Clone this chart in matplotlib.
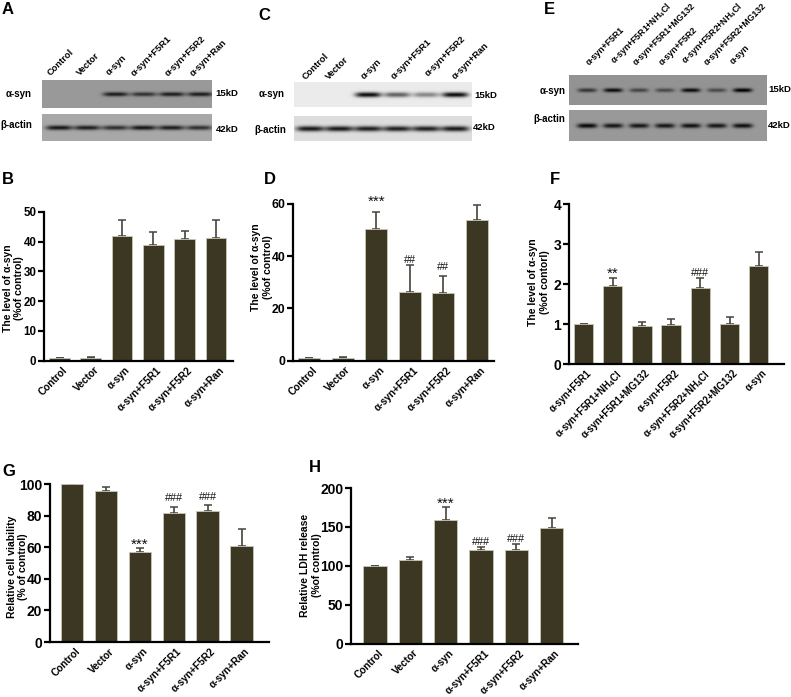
import numpy as np
import matplotlib
matplotlib.use("Agg")
import matplotlib.pyplot as plt
from matplotlib.transforms import ScaledTranslation

plt.rcParams["font.family"] = ["Liberation Sans", "DejaVu Sans"]
plt.rcParams["font.weight"] = "bold"
plt.rcParams["mathtext.fontset"] = "custom"
plt.rcParams["mathtext.rm"] = "Liberation Sans:bold"
plt.rcParams["mathtext.default"] = "regular"

W, H = 791, 697
BAR_COLOR = "#3b3723"
BAR_EDGE = "#c9c8b6"
ERR_COLOR = "#45433a"

groups = ["Control", "Vector", "α-syn", "α-syn+F5R1", "α-syn+F5R2", "α-syn+Ran"]
groups_f = [
    "α-syn+F5R1",
    "α-syn+F5R1+NH$_4$Cl",
    "α-syn+F5R1+MG132",
    "α-syn+F5R2",
    "α-syn+F5R2+NH$_4$Cl",
    "α-syn+F5R2+MG132",
    "α-syn",
]

# bar heights and upper error bars
b_values = [1.0, 0.8, 42.0, 39.0, 41.0, 41.2]
b_errors = [0.0, 0.5, 5.3, 4.2, 2.7, 6.2]
d_values = [1.0, 1.0, 50.5, 26.3, 25.8, 53.7]
d_errors = [0.0, 0.3, 6.5, 10.4, 6.8, 5.8]
f_values = [1.0, 1.96, 0.95, 0.98, 1.89, 1.01, 2.46]
f_errors = [0.0, 0.19, 0.10, 0.15, 0.25, 0.16, 0.34]
g_values = [100.0, 95.3, 57.0, 81.8, 83.0, 60.5]
g_errors = [0.0, 2.5, 2.5, 3.7, 4.0, 11.0]
h_values = [100.0, 108.0, 158.5, 120.5, 121.0, 148.0]
h_errors = [0.0, 3.5, 16.5, 4.0, 7.5, 13.0]

d_marks = ["", "", "***", "##", "##", ""]
f_marks = ["", "**", "", "", "###", "", ""]
g_marks = ["", "", "***", "###", "###", ""]
h_marks = ["", "", "***", "###", "###", ""]

# band darkness per lane in the blots
a_syn_a = [0.0, 0.0, 0.5, 0.42, 0.5, 0.5]
actin_a = [0.58, 0.55, 0.48, 0.58, 0.55, 0.48]
a_syn_c = [0.0, 0.0, 0.88, 0.55, 0.4, 0.88]
actin_c = [0.78, 0.78, 0.75, 0.75, 0.75, 0.78]
a_syn_e = [0.38, 0.55, 0.32, 0.3, 0.55, 0.3, 0.6]
actin_e = [0.58, 0.52, 0.52, 0.52, 0.54, 0.52, 0.55]


def px_axes(fig, left, top, right, bottom):
    return fig.add_axes([left / W, 1 - bottom / H, (right - left) / W, (bottom - top) / H])


def px_text(fig, x, y, s, **kwargs):
    return fig.text(x / W, 1 - y / H, s, **kwargs)


def draw_strip(fig, box, first_lane, spacing, levels, background, band_h, band_w):
    # strip is drawn in pixels, one soft band per lane
    left, top, right, bottom = box
    ax = px_axes(fig, left, top, right, bottom)
    xs, ys = np.meshgrid(np.arange(left, right, 0.5), np.arange(top, bottom, 0.5))
    img = np.full(xs.shape, background, dtype=float)
    mid = (top + bottom) / 2
    for i, level in enumerate(levels):
        centre = first_lane + i * spacing
        img -= level * np.exp(-(((xs - centre) / band_w) ** 4)) * np.exp(-(((ys - mid) / band_h) ** 2))
    ax.imshow(img, cmap="gray", vmin=0, vmax=1, aspect="auto", interpolation="bilinear")
    ax.axis("off")


def draw_bars(fig, box, first_bar, spacing, values, errors, labels, top_value, ticks,
              tick_size, label_size, marks=None, mark_gaps=None):
    left, top, right, bottom = box
    ax = px_axes(fig, left, top, right, bottom)
    xpos = np.arange(len(values))
    ax.set_xlim(-(first_bar - left) / spacing, (right - first_bar) / spacing)
    ax.set_ylim(0, top_value)
    ax.errorbar(xpos, values, yerr=[np.zeros(len(errors)), errors], fmt="none",
                ecolor=ERR_COLOR, elinewidth=1.2, capsize=2.6, capthick=1.1, zorder=1)
    ax.bar(xpos, values, width=0.66, color=BAR_COLOR, edgecolor=BAR_EDGE, linewidth=0.6, zorder=2, clip_on=False)
    for name in ["top", "right"]:
        ax.spines[name].set_visible(False)
    for name in ["left", "bottom"]:
        ax.spines[name].set_linewidth(1.6)
        ax.spines[name].set_zorder(5)
    ax.set_yticks(ticks)
    ax.tick_params(axis="y", length=4, width=1.6, labelsize=tick_size, pad=1.5)
    ax.set_xticks(xpos)
    ax.set_xticklabels(labels, rotation=45, ha="right", rotation_mode="anchor", fontsize=label_size)
    ax.tick_params(axis="x", length=0, pad=3)
    shift = ScaledTranslation(3 / 100, 0, fig.dpi_scale_trans)
    for label in ax.get_xticklabels():
        label.set_transform(label.get_transform() + shift)
    if marks:
        for i, mark in enumerate(marks):
            if mark:
                size = 11 if mark[0] == "*" else 7.8
                ax.annotate(mark, (xpos[i], values[i] + errors[i]), xytext=(0, mark_gaps[i]), textcoords="offset points",
                            ha="center", va="baseline", fontsize=size, fontweight="normal", color="#111111",
                            annotation_clip=False)
    return ax


fig = plt.figure(figsize=(W / 100, H / 100), dpi=100)

# blots, top row
draw_strip(fig, (42, 80, 211, 108), 59, 28, a_syn_a, 0.60, 2.1, 12.5)
draw_strip(fig, (42, 114, 212, 141), 59, 28, actin_a, 0.66, 2.3, 13)
draw_strip(fig, (294, 82, 472, 107), 310, 29, a_syn_c, 0.92, 2.5, 13)
draw_strip(fig, (294, 116, 472, 141), 310, 29, actin_c, 0.87, 2.7, 14)
draw_strip(fig, (569, 75, 767, 105), 587, 25.9, a_syn_e, 0.58, 2.0, 9.5)
draw_strip(fig, (569, 110, 767, 141), 587, 25.9, actin_e, 0.60, 2.3, 10)

blot_label_size = 7
for x, y, s in [(19, 94, "α-syn"), (16, 125, "β-actin"), (272, 94, "α-syn"), (270, 130, "β-actin"),
                (553, 91, "α-syn"), (549, 119, "β-actin")]:
    px_text(fig, x, y, s, fontsize=blot_label_size, ha="center", va="center")
for x, y, s in [(215, 94, "15kD"), (216, 129, "42kD"), (474, 96, "15kD"), (473, 128, "42kD"),
                (768, 89, "15kD"), (768, 125, "42kD")]:
    px_text(fig, x, y, s, fontsize=6.8, ha="left", va="center")

for x, y, s in zip([52, 81, 111, 136, 170, 195], [77, 77, 77, 78, 78, 78], groups):
    px_text(fig, x, y, s, fontsize=6.7, rotation=45, ha="left", va="bottom", rotation_mode="anchor")
for x, y, s in zip([307, 330, 366, 396, 430, 457], [81, 81, 81, 81, 78, 81], groups):
    px_text(fig, x, y, s, fontsize=6.7, rotation=45, ha="left", va="bottom", rotation_mode="anchor")
for x, y, s in zip([591, 617, 638, 664, 688, 709, 735], [67, 67, 67, 67, 67, 67, 66], groups_f):
    px_text(fig, x, y, s, fontsize=6.3, rotation=45, ha="left", va="bottom", rotation_mode="anchor")

# bar panels
draw_bars(fig, (44, 212, 233, 360.7), 59.5, 31.3, b_values, b_errors, groups, 50, [0, 10, 20, 30, 40, 50], 8.3, 7.3)
draw_bars(fig, (293, 204, 494, 360.7), 309, 33.6, d_values, d_errors, groups, 60, [0, 20, 40, 60], 8.8, 7.3,
          d_marks, [0, 0, 4, 1.5, 4.3, 0])
draw_bars(fig, (569, 204, 784, 364), 583.5, 29.2, f_values, f_errors, groups_f, 4, [0, 1, 2, 3, 4], 10, 6.9,
          f_marks, [0, 0, 0, 0, 1.5, 0, 0])
draw_bars(fig, (50, 484, 269, 642), 72, 33.9, g_values, g_errors, groups, 100, [0, 20, 40, 60, 80, 100], 10, 7.3,
          g_marks, [0, 0, -0.5, 4.3, 3.6, 0])
draw_bars(fig, (351, 488, 578, 643.7), 375, 35.3, h_values, h_errors, groups, 200, [0, 50, 100, 150, 200], 10, 7.3,
          h_marks, [0, 0, -0.5, 1.5, 1.5, 0])

for x, y, s in [(13.5, 288, "The level of α-syn\n(%of control)"), (262, 267, "The level of α-syn\n(%of control)"),
                (539, 282, "The level of α-syn\n(%of contorl)"), (17.5, 567, "Relative cell viability\n(% of control)"),
                (311, 565, "Relative LDH release\n(%of control)")]:
    px_text(fig, x, y, s, fontsize=7.5, rotation=90, ha="center", va="center", multialignment="center", linespacing=1.15)

for x, y, s in [(2, 10, "A"), (258, 15, "C"), (544, 10, "E"), (2, 180, "B"), (264, 180, "D"), (550, 180, "F"),
                (2, 472, "G"), (309, 467, "H")]:
    px_text(fig, x, y, s, fontsize=12, ha="left", va="center")

fig.savefig("out.png", dpi=100)
